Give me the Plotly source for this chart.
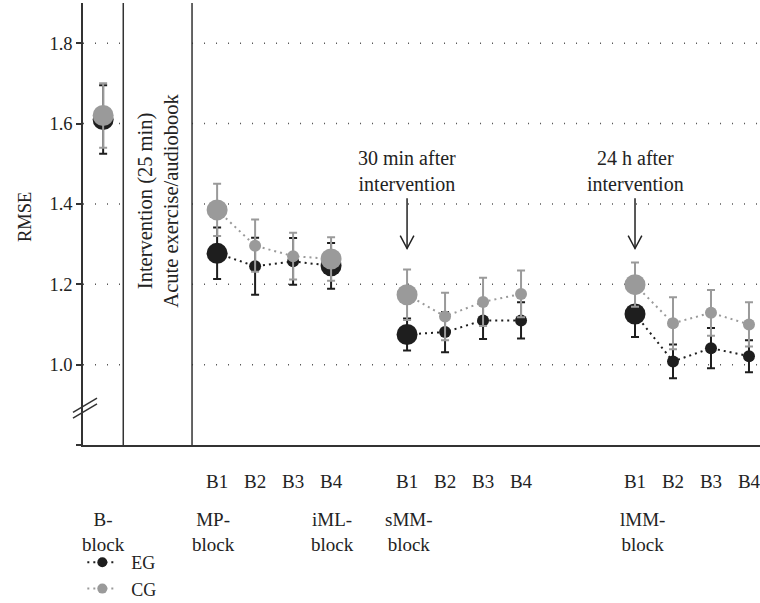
import plotly.graph_objects as go

# ---------------- data ----------------
sessions = ["B1", "B2", "B3", "B4"]

eg_B = [1.610]
eg_B_err = [0.085]
cg_B = [1.620]
cg_B_err = [0.080]

eg_MP = [1.277, 1.245, 1.257, 1.246]
eg_MP_err = [0.064, 0.071, 0.058, 0.057]
cg_MP = [1.385, 1.296, 1.270, 1.263]
cg_MP_err = [0.065, 0.065, 0.058, 0.054]

eg_sMM = [1.075, 1.081, 1.110, 1.110]
eg_sMM_err = [0.040, 0.050, 0.046, 0.045]
cg_sMM = [1.174, 1.120, 1.156, 1.176]
cg_sMM_err = [0.063, 0.059, 0.060, 0.058]

eg_lMM = [1.126, 1.008, 1.041, 1.021]
eg_lMM_err = [0.057, 0.042, 0.050, 0.040]
cg_lMM = [1.199, 1.103, 1.129, 1.100]
cg_lMM_err = [0.055, 0.065, 0.057, 0.055]

y_ticks = [0.8, 1.0, 1.2, 1.4, 1.6, 1.8]
y_ticktext = ["", "1.0", "1.2", "1.4", "1.6", "1.8"]

block_labels = ["B-<br>block", "MP-<br>block", "iML-<br>block", "sMM-<br>block", "lMM-<br>block"]

# ---------------- layout constants ----------------
W, H = 760, 603
ML, MR, MT, MB = 83, 0, 3, 158
XR = [-3.53, 14.29]
YR = [0.8, 1.9]
FONT = "Liberation Serif"
BLACK = "#1e1e1e"
GREY = "#9a9a9a"
BIG, SMALL = 21, 12

offsets = {"B": -3, "MP": 0, "sMM": 5, "lMM": 11}
big_idx = {"B": [0], "MP": [0, 3], "sMM": [0], "lMM": [0]}

series = [
    ("EG", BLACK, {"B": (eg_B, eg_B_err), "MP": (eg_MP, eg_MP_err),
                   "sMM": (eg_sMM, eg_sMM_err), "lMM": (eg_lMM, eg_lMM_err)}),
    ("CG", GREY, {"B": (cg_B, cg_B_err), "MP": (cg_MP, cg_MP_err),
                  "sMM": (cg_sMM, cg_sMM_err), "lMM": (cg_lMM, cg_lMM_err)}),
]

fig = go.Figure()

for name, col, blocks in series:
    for bname, (vals, errs) in blocks.items():
        xs = [offsets[bname] + i for i in range(len(vals))]
        sizes = [BIG if i in big_idx[bname] else SMALL for i in range(len(vals))]
        fig.add_trace(go.Scatter(
            x=xs, y=vals, mode="lines+markers",
            line=dict(color=col, width=2, dash="2px,4px"),
            marker=dict(color=col, size=sizes, opacity=1, line=dict(width=0)),
            error_y=dict(type="data", array=errs, visible=True, color=col,
                         thickness=2, width=4),
            showlegend=False, hoverinfo="skip",
        ))
    # legend entry
    fig.add_trace(go.Scatter(
        x=[None], y=[None], mode="lines+markers", name="\u00a0\u00a0" + name,
        line=dict(color=col, width=2, dash="2px,4px"),
        marker=dict(color=col, size=10, opacity=1),
        showlegend=True,
    ))

shapes = []
# dotted gridlines (not in intervention zone)
sep1, sep2 = -2.47, -0.66
for v in y_ticks[1:]:
    for (a, b) in [(XR[0], sep1), (sep2, XR[1])]:
        shapes.append(dict(type="line", xref="x", yref="y", x0=a, x1=b, y0=v, y1=v,
                           line=dict(color="#555555", width=1.5, dash="1px,11px"),
                           layer="below"))
# separator lines
for sx in [sep1, sep2]:
    shapes.append(dict(type="line", xref="x", yref="paper", x0=sx, x1=sx, y0=0, y1=1,
                       line=dict(color="#333333", width=1.5)))
# axis break mark
for dy in [0.0, 0.013]:
    shapes.append(dict(type="line", xref="paper", yref="paper",
                       x0=-0.0148, y0=0.074 - dy, x1=0.0207, y1=0.106 - dy,
                       line=dict(color="#333333", width=1.5)))
# arrows
for ax in [offsets["sMM"], offsets["lMM"]]:
    top, tip = 1.414, 1.289
    shapes.append(dict(type="line", xref="x", yref="y", x0=ax, x1=ax, y0=top, y1=tip,
                       line=dict(color="#222222", width=1.5)))
    shapes.append(dict(type="path", xref="x", yref="y",
                       path=f"M {ax-0.18},{tip+0.032} L {ax},{tip} L {ax+0.18},{tip+0.032}",
                       line=dict(color="#222222", width=1.5)))

annotations = []
annotations.append(dict(text="30 min after<br>intervention", x=offsets["sMM"], y=1.482,
                        xref="x", yref="y", showarrow=False, xanchor="center", yanchor="middle",
                        font=dict(family=FONT, size=20, color="#222")))
annotations.append(dict(text="24 h after<br>intervention", x=offsets["lMM"], y=1.482,
                        xref="x", yref="y", showarrow=False, xanchor="center", yanchor="middle",
                        font=dict(family=FONT, size=20, color="#222")))
annotations.append(dict(text="Intervention (25 min)<br>Acute exercise/audiobook",
                        x=(sep1 + sep2) / 2, y=0.552, xref="x", yref="paper", textangle=-90,
                        showarrow=False, xanchor="center", yanchor="middle",
                        font=dict(family=FONT, size=20.5, color="#222")))
annotations.append(dict(text="RMSE", x=(25 - ML) / (W - ML - MR), y=(445 - 217) / 442,
                        xref="paper", yref="paper", textangle=-90, showarrow=False,
                        xanchor="center", yanchor="middle",
                        font=dict(family=FONT, size=18.5, color="#222")))
label_x = [offsets["B"], offsets["MP"] - 0.1, offsets["MP"] + 3.05,
           offsets["sMM"] + 0.05, offsets["lMM"] + 0.2]
for lx, lt in zip(label_x, block_labels):
    annotations.append(dict(text=lt, x=lx, y=-0.197, xref="x", yref="paper",
                            showarrow=False, xanchor="center", yanchor="middle",
                            font=dict(family=FONT, size=19, color="#222")))

tickvals = []
ticktext = []
for b in ["MP", "sMM", "lMM"]:
    for i, s in enumerate(sessions):
        tickvals.append(offsets[b] + i)
        ticktext.append(s)

fig.update_layout(
    width=W, height=H,
    margin=dict(l=ML, r=MR, t=MT, b=MB, autoexpand=False),
    paper_bgcolor="white", plot_bgcolor="white",
    font=dict(family=FONT, size=18, color="#222"),
    shapes=shapes, annotations=annotations,
    showlegend=True,
    legend=dict(x=-0.001, y=-0.224, xanchor="left", yanchor="top",
                font=dict(family=FONT, size=18, color="#222"),
                tracegroupgap=0, bgcolor="rgba(0,0,0,0)"),
    xaxis=dict(range=XR, showgrid=False, zeroline=False, showline=True,
               linecolor="#333333", linewidth=1.5, tickvals=tickvals, ticktext=ticktext,
               ticks="", ticklabelstandoff=18, ticklabeloverflow="allow",
               tickfont=dict(family=FONT, size=19)),
    yaxis=dict(range=YR, showgrid=False, zeroline=False, showline=True,
               linecolor="#333333", linewidth=1.5, tickvals=y_ticks, ticktext=y_ticktext,
               ticks="outside", ticklen=5, tickcolor="#333333", tickwidth=1.5,
               tickfont=dict(family=FONT, size=18.5)),
)

fig.write_html("out.html")
